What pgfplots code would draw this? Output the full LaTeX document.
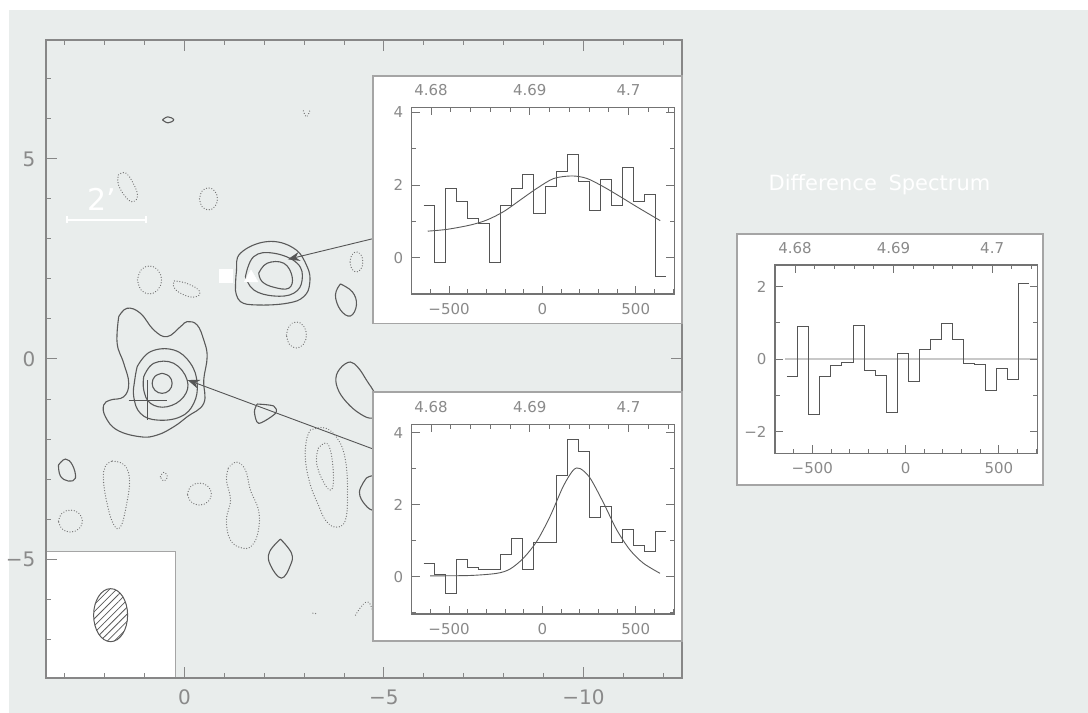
\documentclass[border=0pt]{standalone}
\usepackage{fontspec}
\setmainfont{DejaVu Sans}
\usepackage{pgfplots}
\pgfplotsset{compat=1.18}
\usetikzlibrary{arrows.meta,patterns.meta}
\definecolor{bg}{RGB}{233,237,236}
\definecolor{lab}{RGB}{138,138,138}
\definecolor{mframe}{RGB}{135,135,135}
\definecolor{frame}{RGB}{115,115,115}
\definecolor{boxc}{RGB}{165,165,165}
\definecolor{histc}{RGB}{85,85,85}
\definecolor{cont}{RGB}{90,90,90}
\definecolor{dotcol}{RGB}{115,115,115}
\pgfplotsset{
  solidc/.style={cont, line width=1.1bp, smooth, tension=0.7, mark=none},
  dotc/.style={dotcol, line width=1.3bp, smooth, tension=0.7, mark=none, dash pattern=on 0.01bp off 2.7bp, line cap=round},
  inset/.style={anchor=south west, scale only axis, width=262.5bp,
    xmin=-700, xmax=706, tick align=inside,
    xtick={-1000,-500,0,500,1000}, xticklabels={,−500,0,500,}, minor x tick num=4,
    xtick pos=bottom, ytick pos=both, xticklabel pos=lower, yticklabel pos=left,
    major tick length=8bp, minor tick length=4.5bp,
    tick style={frame, line width=0.9bp},
    axis line style={frame, line width=1.1bp},
    tick label style={font=\fontsize{15bp}{15bp}\selectfont, text=lab},
    xticklabel shift=6bp, yticklabel shift=5bp, axis on top},
  freq/.style={anchor=south west, scale only axis, width=262.5bp,
    xmin=4.67804, xmax=4.70463, ymin=0, ymax=1, tick align=inside,
    xtick={4.67,4.68,4.69,4.70,4.71}, xticklabels={,4.68,4.69,4.7,}, minor x tick num=4,
    xtick pos=top, xticklabel pos=upper, ytick=\empty,
    major tick length=8bp, minor tick length=4.5bp,
    tick style={frame, line width=0.9bp},
    axis line style={frame, line width=1.1bp},
    tick label style={font=\fontsize{15bp}{15bp}\selectfont, text=lab},
    xticklabel shift=8bp},
  hist/.style={const plot, histc, line width=1bp, mark=none},
  fitc/.style={smooth, cont, line width=0.9bp, mark=none}
}
\begin{document}
\begin{tikzpicture}
\fill[white] (0bp,0bp) rectangle (1088bp,713bp);
\fill[bg] (9bp,0bp) rectangle (1088bp,703bp);

% ---------------- main map ----------------
\begin{axis}[at={(46bp,35bp)}, anchor=south west, scale only axis,
  width=636bp, height=638bp,
  x dir=reverse, xmin=-12.47, xmax=3.47, ymin=-7.97, ymax=7.97,
  xtick={-15,-10,-5,0,5}, xticklabels={−15,−10,−5,0,5},
  ytick={-10,-5,0,5,10}, yticklabels={−10,−5,0,5,10},
  minor x tick num=4, minor y tick num=4,
  tick align=inside, xtick pos=both, ytick pos=both,
  xticklabel pos=lower, yticklabel pos=left,
  major tick length=11bp, minor tick length=5bp,
  tick style={mframe, line width=1bp},
  axis line style={mframe, line width=2.2bp},
  tick label style={font=\fontsize{20bp}{20bp}\selectfont, text=lab},
  xticklabel shift=8bp, yticklabel shift=7bp,
  clip=false, axis on top]
% upper source
\addplot[solidc] coordinates {(-1.278,1.725)(-1.303,2.183)(-1.404,2.643)(-2.073,2.933)(-2.739,2.768)(-3.075,2.308)(-3.140,1.893)(-2.990,1.558)(-2.574,1.393)(-1.822,1.35)(-1.404,1.433)(-1.278,1.725)};
\addplot[solidc] coordinates {(-1.529,2.058)(-1.737,2.558)(-2.238,2.643)(-2.825,2.393)(-2.950,1.975)(-2.739,1.643)(-2.238,1.575)(-1.737,1.725)(-1.529,2.058)};
\addplot[solidc] coordinates {(-1.862,2.143)(-2.073,2.393)(-2.489,2.393)(-2.699,2.058)(-2.614,1.768)(-2.238,1.793)(-1.947,1.933)(-1.862,2.143)};
% lower source
\addplot[solidc] coordinates {(1.647,1.058)(1.436,1.268)(1.103,1.143)(0.769,0.725)(0.434,0.558)(0.100,0.808)(-0.068,0.933)(-0.318,0.85)(-0.484,0.475)(-0.569,0.058)(-0.484,-0.525)(-0.484,-1.108)(-0.068,-1.443)(0.268,-1.693)(0.684,-1.9)(1.103,-1.943)(1.687,-1.775)(1.980,-1.443)(2.023,-1.15)(1.855,-1.025)(1.521,-0.943)(1.396,-0.608)(1.521,-0.108)(1.687,0.393)(1.647,1.058)};
\addplot[solidc] coordinates {(1.185,-0.193)(0.852,0.183)(0.268,0.225)(-0.150,-0.108)(-0.318,-0.608)(-0.233,-1.108)(0.100,-1.443)(0.684,-1.525)(1.103,-1.358)(1.271,-0.943)(1.246,-0.525)(1.185,-0.193)};
\addplot[solidc] coordinates {(1.020,-0.443)(0.769,-0.108)(0.268,-0.108)(-0.068,-0.525)(0.018,-0.943)(0.434,-1.193)(0.852,-1.108)(1.020,-0.775)(1.020,-0.443)};
\addplot[solidc] coordinates {(0.559,-0.358)(0.382,-0.431)(0.309,-0.608)(0.382,-0.785)(0.559,-0.858)(0.736,-0.785)(0.809,-0.608)(0.736,-0.431)(0.559,-0.358)};
% other positive contours
\addplot[solidc] coordinates {(-3.910,1.875)(-4.211,1.675)(-4.311,1.35)(-4.160,1.075)(-3.910,1.225)(-3.784,1.6)(-3.910,1.875)};
\addplot[solidc] coordinates {(-3.960,-0.175)(-4.160,-0.075)(-4.361,-0.225)(-4.561,-0.525)(-4.787,-0.9)(-4.862,-1.275)(-4.712,-1.475)(-4.411,-1.375)(-4.060,-1.075)(-3.835,-0.725)(-3.810,-0.4)(-3.960,-0.175)};
\addplot[solidc, tension=0.5] coordinates {(-1.822,-1.125)(-2.238,-1.175)(-2.281,-1.358)(-1.862,-1.608)(-1.754,-1.318)(-1.822,-1.125)};
\addplot[solidc] coordinates {(-4.561,-2.975)(-4.762,-2.925)(-4.962,-3.15)(-4.962,-3.575)(-4.762,-3.775)(-4.536,-3.65)(-4.386,-3.325)(-4.561,-2.975)};
\addplot[solidc] coordinates {(-2.406,-4.5)(-2.682,-4.85)(-2.657,-5.15)(-2.431,-5.475)(-2.155,-5.15)(-2.130,-4.825)(-2.406,-4.5)};
\addplot[solidc] coordinates {(3.158,-2.65)(2.982,-2.5)(2.807,-2.65)(2.732,-2.975)(2.907,-3.05)(3.108,-2.925)(3.158,-2.65)};
\addplot[solidc] coordinates {(0.55,5.975)(0.414,6.05)(0.27,5.975)(0.414,5.9)(0.55,5.975)};
% negative contours
\addplot[dotc] coordinates {(1.654,4.6)(1.479,4.65)(1.303,4.425)(1.178,4.1)(1.278,3.925)(1.454,4.025)(1.654,4.35)(1.654,4.6)};
\addplot[dotc] coordinates {(-0.377,4.0)(-0.443,4.194)(-0.602,4.275)(-0.761,4.194)(-0.827,4.0)(-0.761,3.806)(-0.602,3.725)(-0.443,3.806)(-0.377,4.0)};
\addplot[dotc] coordinates {(1.177,1.975)(1.089,2.222)(0.877,2.325)(0.665,2.222)(0.577,1.975)(0.665,1.728)(0.877,1.625)(1.089,1.728)(1.177,1.975)};
\addplot[dotc] coordinates {(0.251,1.95)(-0.025,1.9)(-0.326,1.75)(-0.376,1.6)(-0.150,1.55)(0.150,1.675)(0.276,1.825)(0.251,1.95)};
\addplot[dotc] coordinates {(-4.151,2.425)(-4.198,2.602)(-4.311,2.675)(-4.424,2.602)(-4.471,2.425)(-4.424,2.248)(-4.311,2.175)(-4.198,2.248)(-4.151,2.425)};
\addplot[dotc] coordinates {(-2.557,0.6)(-2.630,0.830)(-2.807,0.925)(-2.984,0.830)(-3.057,0.6)(-2.984,0.370)(-2.807,0.275)(-2.630,0.370)(-2.557,0.6)};
\addplot[dotc] coordinates {(1.805,-2.55)(1.504,-2.65)(1.378,-3.025)(1.454,-3.65)(1.604,-4.2)(1.779,-4.125)(1.930,-3.65)(2.030,-3.025)(1.980,-2.675)(1.805,-2.55)};
\addplot[dotc] coordinates {(0.604,-2.94)(0.514,-2.83)(0.424,-2.94)(0.514,-3.05)(0.604,-2.94)};
\addplot[dotc] coordinates {(-0.076,-3.375)(-0.164,-3.181)(-0.376,-3.1)(-0.588,-3.181)(-0.676,-3.375)(-0.588,-3.569)(-0.376,-3.65)(-0.164,-3.569)(-0.076,-3.375)};
\addplot[dotc] coordinates {(3.157,-4.05)(3.069,-3.856)(2.857,-3.775)(2.645,-3.856)(2.557,-4.05)(2.645,-4.244)(2.857,-4.325)(3.069,-4.244)(3.157,-4.05)};
\addplot[dotc] coordinates {(-1.103,-2.725)(-1.303,-2.575)(-1.529,-2.775)(-1.654,-3.275)(-1.855,-3.775)(-1.855,-4.275)(-1.704,-4.65)(-1.454,-4.725)(-1.153,-4.525)(-1.053,-4.025)(-1.153,-3.525)(-1.053,-3.025)(-1.103,-2.725)};
\addplot[dotc] coordinates {(-3.158,-1.775)(-3.534,-1.725)(-3.860,-2.025)(-4.035,-2.525)(-4.085,-3.275)(-4.035,-4.025)(-3.784,-4.2)(-3.534,-4.025)(-3.358,-3.65)(-3.158,-3.15)(-3.033,-2.525)(-3.058,-2.025)(-3.158,-1.775)};
\addplot[dotc] coordinates {(-3.358,-2.225)(-3.559,-2.1)(-3.684,-2.4)(-3.734,-3.025)(-3.659,-3.275)(-3.459,-3.025)(-3.308,-2.575)(-3.358,-2.225)};
\addplot[dotc] coordinates {(-2.98,6.2)(-3.06,6.05)(-3.14,6.2)};
\addplot[dotc] coordinates {(-4.286,-6.4)(-4.461,-6.15)(-4.612,-6.075)(-4.712,-6.275)};
\addplot[dotc] coordinates {(-3.22,-6.35)(-3.35,-6.37)};
% cross
\addplot[histc, line width=0.9bp, mark=none] coordinates {(1.396,-1.025)(0.434,-1.025)};
\addplot[histc, line width=0.9bp, mark=none] coordinates {(0.92,-0.525)(0.92,-1.525)};
% markers
\addplot[only marks, mark=square*, mark size=6.5bp, mark options={fill=white, draw=white}] coordinates {(-1.035,2.083)};
\addplot[only marks, mark=triangle*, mark size=8bp, mark options={fill=white, draw=white}] coordinates {(-1.67,2.025)};
% arrows
\addplot[histc, line width=0.9bp, mark=none, -{Stealth[length=12bp,width=9bp]}] coordinates {(-4.74,3.01)(-2.59,2.49)};
\addplot[histc, line width=0.9bp, mark=none, -{Stealth[length=12bp,width=9bp]}] coordinates {(-4.74,-2.253)(-0.08,-0.525)};
% scale bar
\addplot[white, line width=1.5bp, mark=none, {Bar[width=7bp]}-{Bar[width=7bp]}] coordinates {(2.96,3.475)(0.95,3.475)};
\node[text=white, font=\fontsize{30bp}{30bp}\selectfont] at (axis cs:2.08,3.99) {2'};
% beam box
\draw[boxc, line width=1.2bp, fill=white] (axis cs:3.47,-7.97) rectangle (axis cs:0.226,-4.8);
\draw[cont, line width=1bp, pattern={Lines[angle=45,distance=5bp,line width=0.8bp]}, pattern color=cont] (axis cs:1.85,-6.4) ellipse [x radius=17bp, y radius=26.5bp];
\end{axis}

% ---------------- inset 1 ----------------
\draw[boxc, line width=1.2bp, fill=white] (373bp,389.5bp) rectangle (682bp,637bp);
\begin{axis}[inset, at={(411.7bp,419bp)}, height=186.7bp, ymin=-1, ymax=4.14,
  ytick={-2,0,2,4,6}, yticklabels={,0,2,4,}, minor y tick num=1]
\addplot[hist] coordinates {(-636,1.45)(-577,-0.13)(-518,1.9)(-459,1.56)(-400,1.08)(-341,0.95)(-281,-0.13)(-222,1.43)(-163,1.9)(-104,2.3)(-45,1.22)(14,1.95)(73,2.37)(132,2.83)(191,2.09)(251,1.31)(310,2.14)(369,1.45)(428,2.48)(487,1.56)(546,1.74)(605,-0.52)(664,-0.52)};
\addplot[fitc] coordinates {(-614,0.73)(-510,0.78)(-385,0.90)(-296,1.04)(-207,1.27)(-118,1.59)(-29,1.91)(61,2.18)(159,2.25)(239,2.18)(328,1.95)(417,1.68)(506,1.40)(631,1.02)};
\end{axis}
\begin{axis}[freq, at={(411.7bp,419bp)}, height=186.7bp]
\end{axis}

% ---------------- inset 2 ----------------
\draw[boxc, line width=1.2bp, fill=white] (373bp,72bp) rectangle (682bp,321bp);
\begin{axis}[inset, at={(411.7bp,99bp)}, height=189.7bp, ymin=-1.04, ymax=4.23,
  ytick={-2,0,2,4,6}, yticklabels={,0,2,4,}, minor y tick num=1]
\addplot[hist] coordinates {(-636,0.35)(-577,0.07)(-518,-0.46)(-459,0.48)(-400,0.26)(-341,0.19)(-281,0.19)(-222,0.61)(-163,1.05)(-104,0.19)(-45,0.94)(14,0.96)(73,2.80)(132,3.80)(191,3.47)(251,1.65)(310,1.94)(369,0.94)(428,1.30)(487,0.85)(546,0.71)(605,1.25)(664,1.25)};
\addplot[fitc] coordinates {(-601,0.02)(-388,0.03)(-244,0.09)(-173,0.21)(-102,0.51)(-30,0.98)(41,1.67)(112,2.51)(166,2.96)(202,3.0)(255,2.74)(327,2.05)(398,1.30)(469,0.74)(541,0.37)(630,0.09)};
\end{axis}
\begin{axis}[freq, at={(411.7bp,99bp)}, height=189.7bp]
\end{axis}

% ---------------- difference spectrum ----------------
\draw[boxc, line width=1.2bp, fill=white] (737bp,228bp) rectangle (1043bp,479bp);
\begin{axis}[inset, at={(775bp,259.7bp)}, height=188.3bp, ymin=-2.6, ymax=2.6, xmax=707,
  ytick={-4,-2,0,2,4}, yticklabels={,−2,0,2,}, minor y tick num=1]
\addplot[color={rgb,255:red,200;green,200;blue,200}, line width=2.5bp, mark=none] coordinates {(-645,0)(707,0)};
\addplot[hist] coordinates {(-636,-0.48)(-577,0.90)(-518,-1.54)(-459,-0.48)(-400,-0.18)(-341,-0.09)(-281,0.92)(-222,-0.32)(-163,-0.45)(-104,-1.47)(-45,0.15)(14,-0.62)(73,0.26)(132,0.53)(191,0.99)(251,0.53)(310,-0.11)(369,-0.16)(428,-0.86)(487,-0.25)(546,-0.55)(605,2.10)(664,2.10)};
\end{axis}
\begin{axis}[freq, at={(775bp,259.7bp)}, height=188.3bp, xmin=4.67797, xmax=4.7046]
\end{axis}
\node[text=white, font=\fontsize{21bp}{21bp}\selectfont] at (879.5bp,528bp) {Difference\hspace{5bp} Spectrum};
\end{tikzpicture}
\end{document}
